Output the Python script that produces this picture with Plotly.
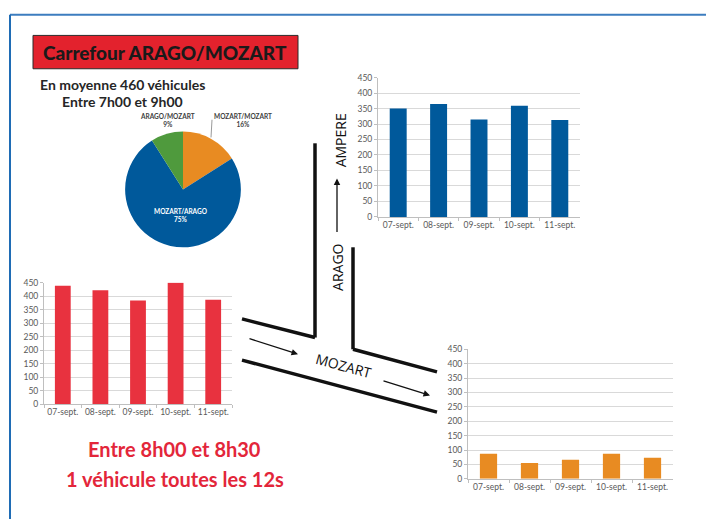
import plotly.graph_objects as go

W, H = 706, 524

days = ["07-sept.", "08-sept.", "09-sept.", "10-sept.", "11-sept."]
ampere_vals = [350, 365, 315, 359, 313]
arago_in_vals = [438, 422, 384, 449, 387]
mozart_out_vals = [87, 55, 66, 87, 73]

pie_labels = ["MOZART/MOZART", "MOZART/ARAGO", "ARAGO/MOZART"]
pie_values = [16, 75, 9]
pie_colors = ["#E88B22", "#00599B", "#4F9A3D"]

y_ticks = [0, 50, 100, 150, 200, 250, 300, 350, 400, 450]


def px_x(p):
    return p / W


def px_y(p):
    return 1 - p / H


fig = go.Figure()

charts = [
    # (axis suffix, values, color, x px range, y px range (top, bottom))
    ("", ampere_vals, "#00599B", (378, 580), (74, 216)),
    ("2", arago_in_vals, "#E8323F", (44, 232), (283, 407)),
    ("3", mozart_out_vals, "#E88B22", (468, 673), (351, 483)),
]

tick_font = dict(family="Lato, Liberation Sans, sans-serif", size=8.5, color="#595959")

for suffix, vals, color, (x0, x1), (yt, yb) in charts:
    fig.add_trace(go.Bar(
        x=days, y=vals, marker=dict(color=color, line=dict(width=0)),
        xaxis="x" + suffix, yaxis="y" + suffix, showlegend=False,
        hoverinfo="x+y",
    ))
    fig.layout["xaxis" + suffix] = dict(
        domain=[px_x(x0), px_x(x1)], anchor="y" + suffix,
        showline=True, linecolor="#BFBFBF", linewidth=1,
        ticks="outside", tickson="boundaries", ticklen=3, tickcolor="#BFBFBF",
        tickfont=tick_font, tickangle=0, showgrid=False, fixedrange=True,
    )
    fig.layout["yaxis" + suffix] = dict(
        domain=[px_y(yb), px_y(yt)], anchor="x" + suffix,
        range=[0, 450], tickvals=y_ticks,
        showline=True, linecolor="#BFBFBF", linewidth=1,
        ticks="outside", ticklen=3, tickcolor="#BFBFBF",
        showgrid=True, gridcolor="#D9D9D9", gridwidth=1,
        zeroline=False, tickfont=tick_font, fixedrange=True,
    )

fig.update_layout(bargap=0.58)

# Pie
fig.add_trace(go.Pie(
    labels=pie_labels, values=pie_values, sort=False, direction="clockwise",
    rotation=0, marker=dict(colors=pie_colors, line=dict(width=0)),
    textinfo="none", showlegend=False,
    domain=dict(x=[px_x(124), px_x(242)], y=[px_y(247), px_y(129)]),
))

shapes = []
annotations = []

# Blue border (top and left)
shapes.append(dict(type="line", xref="paper", yref="paper",
                   x0=px_x(10), x1=1, y0=px_y(10), y1=px_y(10),
                   line=dict(color="#3C7DBF", width=2)))
shapes.append(dict(type="line", xref="paper", yref="paper",
                   x0=px_x(10), x1=px_x(10), y0=px_y(10), y1=0,
                   line=dict(color="#1F6CB5", width=2)))

# Title box
shapes.append(dict(type="rect", xref="paper", yref="paper",
                   x0=px_x(33), x1=px_x(298), y0=px_y(65), y1=px_y(31),
                   fillcolor="#E3222D", line=dict(color="#2B2B2B", width=1)))
annotations.append(dict(xref="paper", yref="paper", x=px_x(165), y=px_y(48),
                        text="Carrefour ARAGO/MOZART", showarrow=False,
                        font=dict(family="Lato, sans-serif", size=19, color="#1A1A1A", weight=900),
                        xanchor="center", yanchor="middle"))

# Subtitle
annotations.append(dict(xref="paper", yref="paper", x=px_x(122), y=px_y(81),
                        text="<b>En moyenne 460 véhicules</b>", showarrow=False,
                        font=dict(family="Lato, sans-serif", size=14, color="#262626"),
                        xanchor="center", yanchor="middle"))
annotations.append(dict(xref="paper", yref="paper", x=px_x(122), y=px_y(98),
                        text="<b>Entre 7h00 et 9h00</b>", showarrow=False,
                        font=dict(family="Lato, sans-serif", size=14, color="#262626"),
                        xanchor="center", yanchor="middle"))

# Pie labels
lbl_font = dict(family="Lato, Liberation Sans, sans-serif", size=6.5, color="#404040")
annotations.append(dict(xref="paper", yref="paper", x=px_x(167), y=px_y(118),
                        text="<b>ARAGO/MOZART<br>9%</b>", showarrow=False,
                        font=lbl_font, xanchor="center", yanchor="middle"))
annotations.append(dict(xref="paper", yref="paper", x=px_x(243), y=px_y(118),
                        text="<b>MOZART/MOZART<br>16%</b>", showarrow=False,
                        font=lbl_font, xanchor="center", yanchor="middle"))
annotations.append(dict(xref="paper", yref="paper", x=px_x(180), y=px_y(215),
                        text="<b>MOZART/ARAGO<br>75%</b>", showarrow=False,
                        font=dict(family="Lato, Liberation Sans, sans-serif", size=6.5, color="white"),
                        xanchor="center", yanchor="middle"))
shapes.append(dict(type="line", xref="paper", yref="paper",
                   x0=px_x(212), x1=px_x(211), y0=px_y(117), y1=px_y(135),
                   line=dict(color="#7F7F7F", width=0.8)))

# Roads
road = dict(color="#111111", width=3.5)
for (a, b) in [((315, 141), (315, 339)), ((315, 339), (242, 320)),
               ((242, 362), (437, 415)),
               ((353, 247), (353, 351)), ((353, 351), (437, 374))]:
    shapes.append(dict(type="line", xref="paper", yref="paper",
                       x0=px_x(a[0]), y0=px_y(a[1]), x1=px_x(b[0]), y1=px_y(b[1]),
                       line=road))

# Arrows (head, tail)
for head, tail in [((337, 177), (337, 232)), ((298, 356), (248, 340)), ((430, 398), (382, 383))]:
    annotations.append(dict(xref="paper", yref="paper", x=px_x(head[0]), y=px_y(head[1]),
                            ax=tail[0] - head[0], ay=tail[1] - head[1],
                            axref="pixel", ayref="pixel", text="", showarrow=True,
                            arrowhead=2, arrowsize=1, arrowwidth=1.3, arrowcolor="#111111"))

# Street names
street_font = dict(family="Open Sans, DejaVu Sans, sans-serif", size=14, color="#111111")
annotations.append(dict(xref="paper", yref="paper", x=px_x(338), y=px_y(267),
                        text="ARAGO", textangle=-90, showarrow=False, font=street_font,
                        xanchor="center", yanchor="middle"))
annotations.append(dict(xref="paper", yref="paper", x=px_x(340), y=px_y(138),
                        text="AMPERE", textangle=-90, showarrow=False, font=street_font,
                        xanchor="center", yanchor="middle"))
annotations.append(dict(xref="paper", yref="paper", x=px_x(343), y=px_y(368),
                        text="MOZART", textangle=15, showarrow=False, font=street_font,
                        xanchor="center", yanchor="middle"))

# Red text
red_font = dict(family="Lato, sans-serif", size=20, color="#E3263A")
annotations.append(dict(xref="paper", yref="paper", x=px_x(174), y=px_y(453),
                        text="<b>Entre 8h00 et 8h30</b>", showarrow=False, font=red_font,
                        xanchor="center", yanchor="middle"))
annotations.append(dict(xref="paper", yref="paper", x=px_x(175), y=px_y(483),
                        text="<b>1 véhicule toutes les 12s</b>", showarrow=False, font=red_font,
                        xanchor="center", yanchor="middle"))

fig.update_layout(
    width=W, height=H, margin=dict(l=0, r=0, t=0, b=0),
    paper_bgcolor="white", plot_bgcolor="white",
    shapes=shapes, annotations=annotations,
)

fig.write_html("out.html", config={"displayModeBar": False},
               post_script="document.body.style.margin='0';document.body.style.padding='0';")
